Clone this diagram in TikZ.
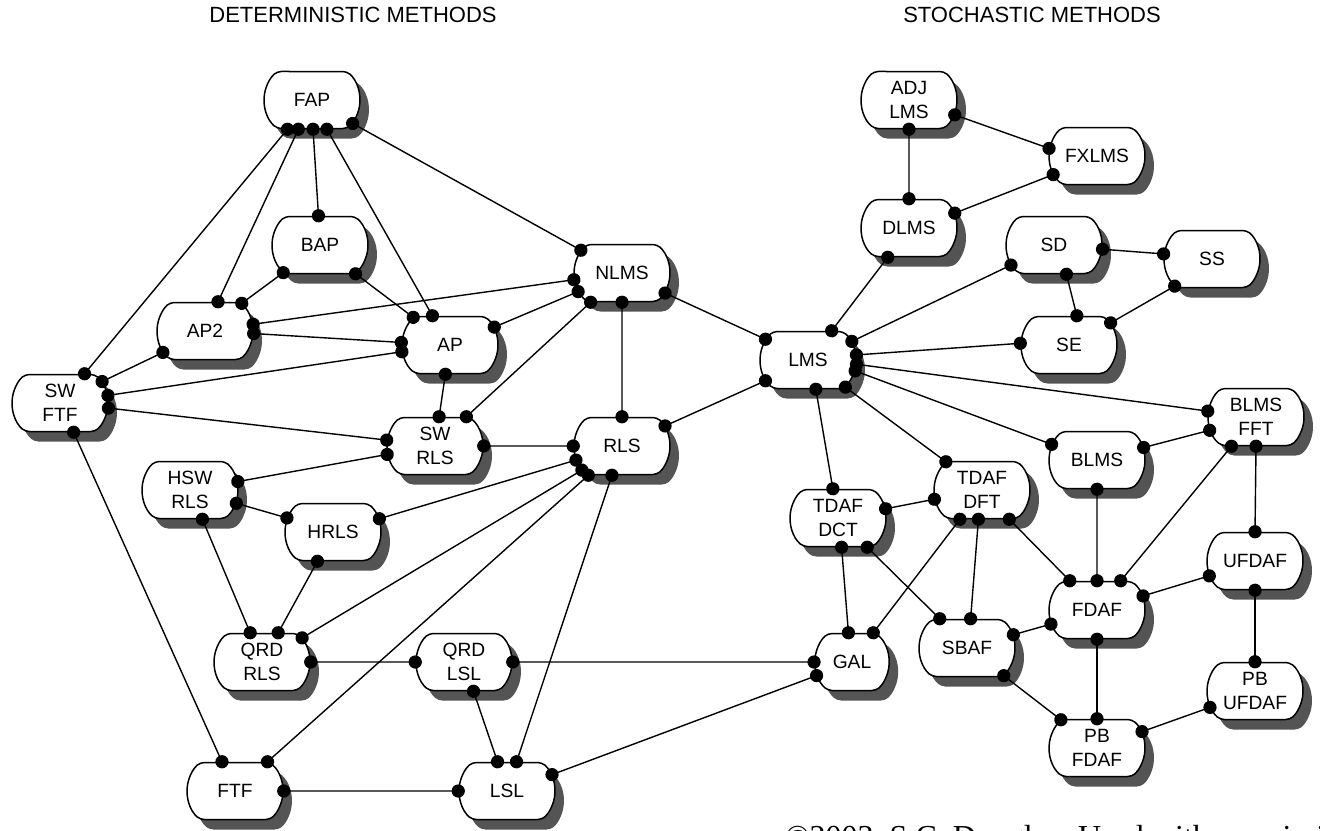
\documentclass[tikz,border=0pt]{standalone}
\usepackage{fontspec}
\setmainfont{Liberation Sans}
\newfontfamily\copyfont{Liberation Serif}
\usetikzlibrary{shapes.misc,shadows,arrows.meta}

\begin{document}
\begin{tikzpicture}[x=0.5pt, y=-0.5pt,
  algbox/.style={rounded rectangle, rounded rectangle arc length=100,
    draw, line width=0.75pt, fill=white, rounded corners=2pt,
    minimum width=50pt, minimum height=28.5pt, inner sep=1pt, align=center,
    font=\fontsize{9.6}{11.8}\selectfont,
    drop shadow={shadow xshift=4.5pt, shadow yshift=-5pt, fill=black!67, opacity=1}},
  link/.style={line width=0.7pt, {Circle[length=6.6pt]}-{Circle[length=6.6pt]},
    shorten <=-3.3pt, shorten >=-3.3pt},
  head/.style={font=\fontsize{11}{13}\selectfont}]

%---------------- 版面 ----------------%
\useasboundingbox (0,0) rectangle (1320,830);

%---------------- 標題 ----------------%
\node[head] (dethead) at (353,15) {DETERMINISTIC METHODS};
\node[head] (stohead) at (1032,15) {STOCHASTIC METHODS};

%---------------- 確定性方法 ----------------%
\foreach \name/\x/\y/\txt in {fap/312/100/FAP, bap/320/245/BAP, nlms/622/273/NLMS,
    ap2/205/331/AP2, ap/450/345/AP, swftf/60/403/{SW\\FTF}, swrls/435/446/{SW\\RLS},
    rls/622/446/RLS, hswrls/190/490/{HSW\\RLS}, hrls/333/532/HRLS,
    qrdrls/262/662/{QRD\\RLS}, qrdlsl/464/662/{QRD\\LSL}, ftf/235/791/FTF, lsl/507/791/LSL} {
  \node[algbox] (\name) at (\x,\y) {\txt};
}

%---------------- 隨機方法 ----------------%
\foreach \name/\x/\y/\txt in {lms/808/360/LMS, adjlms/909/100/{ADJ\\LMS}, fxlms/1097/156/FXLMS,
    dlms/909/228/DLMS, sd/1054/245/SD, ss/1212/259/SS, se/1069/345/SE,
    blmsfft/1256/417/{BLMS\\FFT}, blms/1097/460/BLMS, tdafdft/982/490/{TDAF\\DFT},
    tdafdct/838/518/{TDAF\\DCT}, ufdaf/1255/561/UFDAF, fdaf/1097/610/FDAF,
    sbaf/967/648/SBAF, pbufdaf/1255/691/{PB\\UFDAF}, pbfdaf/1097/748/{PB\\FDAF}} {
  \node[algbox] (\name) at (\x,\y) {\txt};
}
\node[algbox, minimum width=35pt] (gal) at (852,662) {GAL};

%---------------- 連線 (左半) ----------------%
\foreach \a/\b in {fap.-130/swftf.50, fap.-115/ap2.66, fap.-88/bap.93, fap.-63/ap.121,
    fap.-30/nlms.151, bap.-143/ap2.37, bap.-39/ap.143, ap2.8/nlms.-172, ap2.-3/ap.177,
    ap2.-153/swftf.27, ap.22/nlms.-157, ap.-172/swftf.9, ap.-99/swrls.82,
    nlms.-137/swrls.43, nlms.-90/rls.90, nlms.-25/lms.154, swftf.-6/swrls.173,
    swftf.-65/ftf.114, swrls.-170/hswrls.10, swrls.0/rls.180, hswrls.-16/hrls.163,
    hswrls.-67/qrdrls.112, hrls.16/rls.-163, hrls.-118/qrdrls.61, qrdrls.31/rls.-149,
    qrdrls.0/qrdlsl.180, ftf.42/rls.-139, ftf.0/lsl.180, lsl.72/rls.-109,
    qrdlsl.-72/lsl.108, qrdlsl.0/gal.180, lsl.20/gal.-159, rls.25/lms.-154} {
  \draw[link] (\a) -- (\b);
}

%---------------- 連線 (右半) ----------------%
\foreach \a/\b in {adjlms.-90/dlms.90, adjlms.-18/fxlms.171, dlms.18/fxlms.-157,
    dlms.-126/lms.51, lms.23/sd.-155, lms.6/se.178, lms.-5/blmsfft.173,
    lms.-13/blms.161, lms.-36/tdafdft.142, lms.-75/tdafdct.100, tdafdct.11/tdafdft.-169,
    tdafdct.-83/gal.97, tdafdct.-45/sbaf.133, tdafdft.-127/gal.54, tdafdft.-97/sbaf.83,
    tdafdft.-47/fdaf.133, sbaf.16/fdaf.-163, sbaf.-37/pbfdaf.142, blms.15/blmsfft.-164,
    blms.-90/fdaf.90, blmsfft.-130/fdaf.51, blmsfft.-90/ufdaf.90, ufdaf.-162/fdaf.17,
    ufdaf.-90/pbufdaf.90, fdaf.-90/pbfdaf.90, pbufdaf.-160/pbfdaf.20,
    sd.-5/ss.174, sd.-67/se.75, ss.-144/se.28} {
  \draw[link] (\a) -- (\b);
}

%---------------- 版權 ----------------%
\node[anchor=base west, inner sep=0pt, font=\copyfont\fontsize{16}{18}\selectfont]
  (credit) at (785,847) {\textcopyright 2003, S.C. Douglas. Used with permission.};

\end{tikzpicture}
\end{document}
